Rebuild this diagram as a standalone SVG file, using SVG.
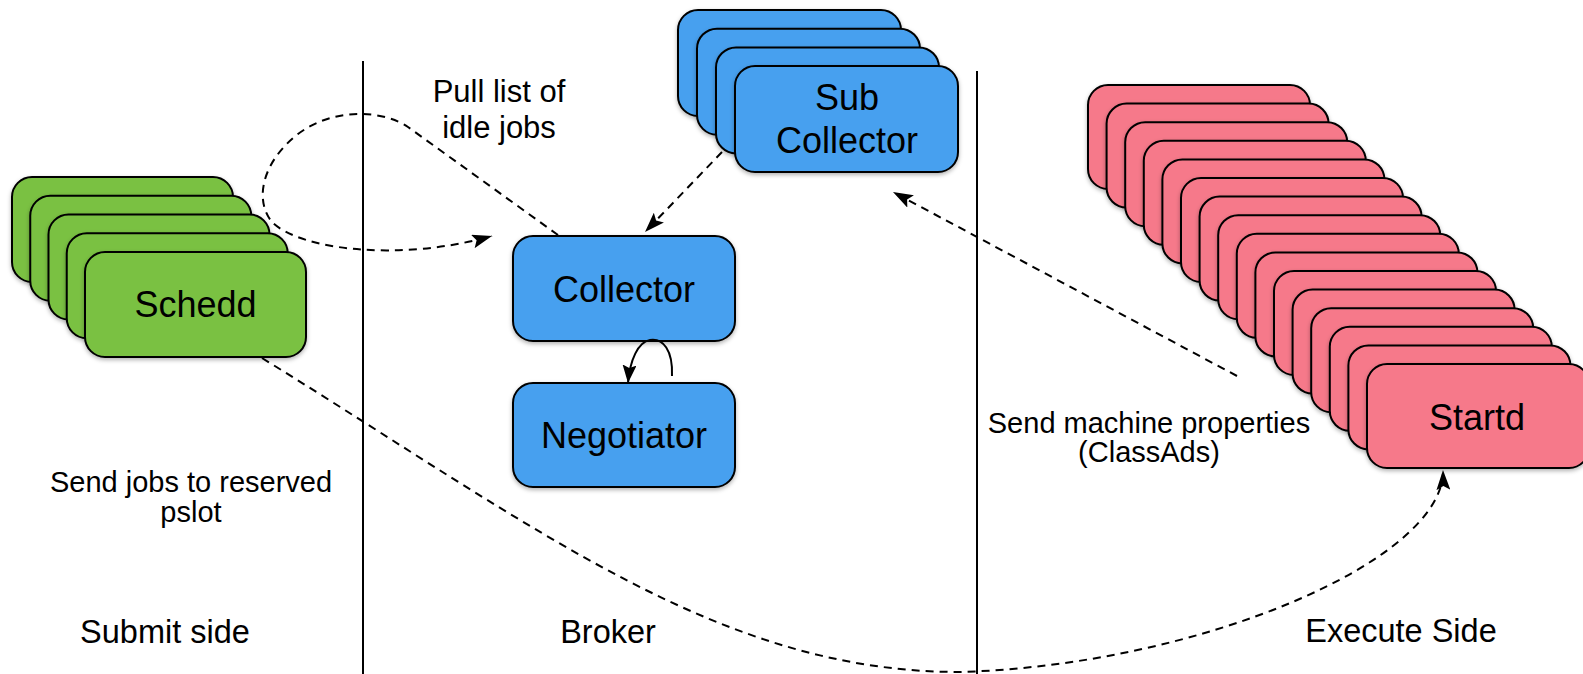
<svg xmlns="http://www.w3.org/2000/svg" width="1583" height="674" viewBox="0 0 1583 674">
  <style>
    .box { stroke: #000; stroke-width: 2; filter: url(#shadow); }
    .schedd { fill: #7ac143; }
    .broker { fill: #46a0ef; }
    .startd { fill: #f6798a; }
    .node-label { font-family: "Liberation Sans", Arial, sans-serif; font-size: 36px; fill: #000; text-anchor: middle; }
    .label { font-family: "Liberation Sans", Arial, sans-serif; fill: #000; text-anchor: middle; }
    .divider { stroke: #000; stroke-width: 2; }
    .flow { fill: none; stroke: #000; stroke-width: 2; stroke-dasharray: 8 6; }
    .solid { fill: none; stroke: #000; stroke-width: 2; }
  </style>
  <defs>
    <filter id="shadow" x="-10%" y="-10%" width="125%" height="130%">
      <feDropShadow dx="0" dy="2" stdDeviation="2" flood-color="#000" flood-opacity="0.3"/>
    </filter>
    <marker id="arrow" viewBox="0 0 20 14" refX="20" refY="7" markerWidth="20" markerHeight="14" markerUnits="userSpaceOnUse" orient="auto">
      <path d="M0,0 L20,7 L0,14 L4,7 Z" fill="#000"/>
    </marker>
    <marker id="arrow-small" viewBox="0 0 18 14" refX="18" refY="7" markerWidth="18" markerHeight="14" markerUnits="userSpaceOnUse" orient="auto">
      <path d="M0,0 L18,7 L0,14 L3,7 Z" fill="#000"/>
    </marker>
  </defs>

  <rect width="1583" height="674" fill="#fff"/>

  <!-- zone dividers -->
  <g id="dividers">
    <line class="divider" x1="363" y1="61" x2="363" y2="674"/>
    <line class="divider" x1="977" y1="71" x2="977" y2="674"/>
  </g>

  <!-- schedd stack -->
  <g id="schedd">
    <rect class="box schedd" x="12" y="177" width="221" height="105" rx="20"/>
    <rect class="box schedd" x="30.25" y="195.75" width="221" height="105" rx="20"/>
    <rect class="box schedd" x="48.5" y="214.5" width="221" height="105" rx="20"/>
    <rect class="box schedd" x="66.75" y="233.25" width="221" height="105" rx="20"/>
    <rect class="box schedd" x="85" y="252" width="221" height="105" rx="20"/>
    <text class="node-label" x="195.5" y="317">Schedd</text>
  </g>

  <!-- sub collector stack -->
  <g id="sub-collector">
    <rect class="box broker" x="678" y="10" width="223" height="106" rx="20"/>
    <rect class="box broker" x="697" y="28.7" width="223" height="106" rx="20"/>
    <rect class="box broker" x="716" y="47.4" width="223" height="106" rx="20"/>
    <rect class="box broker" x="735" y="66" width="223" height="106" rx="20"/>
    <text class="node-label" x="847" y="110">Sub</text>
    <text class="node-label" x="847" y="153">Collector</text>
  </g>

  <!-- collector -->
  <g id="collector">
    <rect class="box broker" x="513" y="236" width="222" height="105" rx="20"/>
    <text class="node-label" x="624" y="302">Collector</text>
  </g>

  <!-- negotiator -->
  <g id="negotiator">
    <rect class="box broker" x="513" y="383" width="222" height="104" rx="20"/>
    <text class="node-label" x="624" y="448">Negotiator</text>
  </g>

  <!-- startd stack -->
  <g id="startd">
    <rect class="box startd" x="1088" y="85" width="222" height="104" rx="20"/>
    <rect class="box startd" x="1106.6" y="103.6" width="222" height="104" rx="20"/>
    <rect class="box startd" x="1125.2" y="122.2" width="222" height="104" rx="20"/>
    <rect class="box startd" x="1143.8" y="140.8" width="222" height="104" rx="20"/>
    <rect class="box startd" x="1162.4" y="159.4" width="222" height="104" rx="20"/>
    <rect class="box startd" x="1181" y="178" width="222" height="104" rx="20"/>
    <rect class="box startd" x="1199.6" y="196.6" width="222" height="104" rx="20"/>
    <rect class="box startd" x="1218.2" y="215.2" width="222" height="104" rx="20"/>
    <rect class="box startd" x="1236.8" y="233.8" width="222" height="104" rx="20"/>
    <rect class="box startd" x="1255.4" y="252.4" width="222" height="104" rx="20"/>
    <rect class="box startd" x="1274" y="271" width="222" height="104" rx="20"/>
    <rect class="box startd" x="1292.6" y="289.6" width="222" height="104" rx="20"/>
    <rect class="box startd" x="1311.2" y="308.2" width="222" height="104" rx="20"/>
    <rect class="box startd" x="1329.8" y="326.8" width="222" height="104" rx="20"/>
    <rect class="box startd" x="1348.4" y="345.4" width="222" height="104" rx="20"/>
    <rect class="box startd" x="1367" y="364" width="222" height="104" rx="20"/>
    <text class="node-label" x="1477" y="430">Startd</text>
  </g>

  <!-- connectors -->
  <g id="connectors">
    <!-- schedd pulls idle job list from collector -->
    <path class="flow" d="M558,235 L408,127 C385,111 335,106 298,134 C262,162 254,200 272,222 C300,250 400,262 492,236" marker-end="url(#arrow)"/>
    <!-- sub collector forwards to collector -->
    <path class="flow" d="M722,152 L645,232" marker-end="url(#arrow)"/>
    <!-- startd advertises to sub collector -->
    <path class="flow" d="M1237,376 L893,192" marker-end="url(#arrow)"/>
    <!-- collector to negotiator -->
    <path class="solid" d="M672,376 C673,350 663,338 650,340 C638,342 630,360 628,383" marker-end="url(#arrow-small)"/>
    <!-- schedd sends jobs to startd -->
    <path class="flow" d="M262,358 C540,530 720,672 960,672 C1200,665 1445,560 1443,470" marker-end="url(#arrow)"/>
  </g>

  <!-- labels -->
  <g id="labels">
    <text class="label" font-size="31" x="499" y="102">Pull list of</text>
    <text class="label" font-size="31" x="499" y="138">idle jobs</text>
    <text class="label" font-size="29" x="191" y="492">Send jobs to reserved</text>
    <text class="label" font-size="29" x="191" y="522">pslot</text>
    <text class="label" font-size="29" x="1149" y="433">Send machine properties</text>
    <text class="label" font-size="29" x="1149" y="462">(ClassAds)</text>
    <text class="label" font-size="32.5" x="165" y="643">Submit side</text>
    <text class="label" font-size="32.5" x="608" y="643">Broker</text>
    <text class="label" font-size="32.5" x="1401" y="642">Execute Side</text>
  </g>
</svg>
